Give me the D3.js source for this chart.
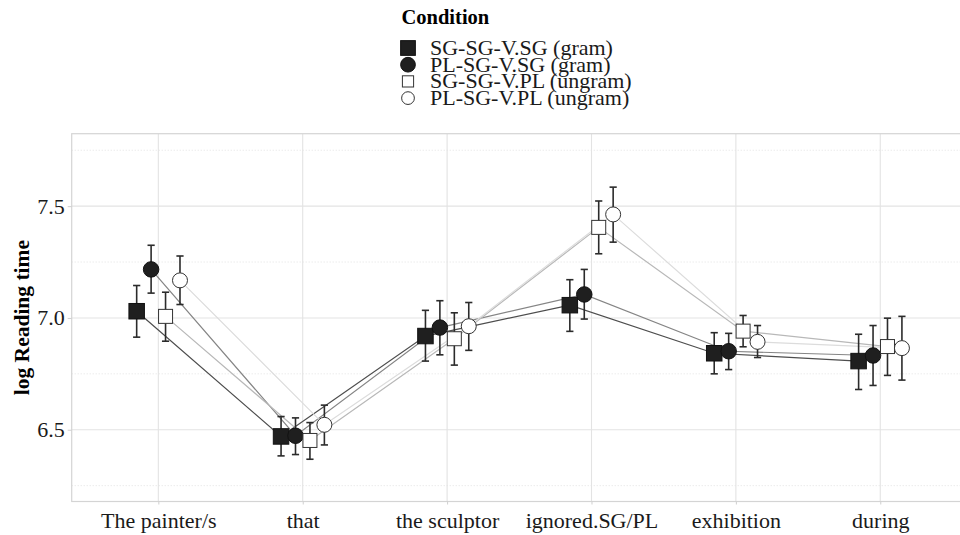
<!DOCTYPE html>
<html>
<head>
<meta charset="utf-8">
<script src="https://cdn.jsdelivr.net/npm/d3@7"></script>
<style>
  html, body { margin: 0; padding: 0; background: #fff; overflow: hidden; }
  svg { display: block; }
</style>
</head>
<body>
<div id="chart"></div>
<script>
// words of the sentence, in reading order
const regions = ["The painter/s", "that", "the sculptor", "ignored.SG/PL", "exhibition", "during"];
const conditions = ["SG-SG-V.SG (gram)", "PL-SG-V.SG (gram)", "SG-SG-V.PL (ungram)", "PL-SG-V.PL (ungram)"];

// mean log reading time per region, one array per condition
const sgsgSg = [7.030, 6.470, 6.919, 7.057, 6.842, 6.807];
const plsgSg = [7.217, 6.473, 6.957, 7.105, 6.851, 6.832];
const sgsgPl = [7.007, 6.452, 6.907, 7.405, 6.941, 6.872];
const plsgPl = [7.168, 6.522, 6.963, 7.463, 6.893, 6.865];

// error bar ends
const sgsgSgLo = [6.914, 6.383, 6.807, 6.940, 6.750, 6.680];
const sgsgSgHi = [7.145, 6.559, 7.034, 7.171, 6.934, 6.927];
const plsgSgLo = [7.111, 6.389, 6.835, 6.995, 6.769, 6.698];
const plsgSgHi = [7.325, 6.553, 7.077, 7.217, 6.931, 6.966];
const sgsgPlLo = [6.896, 6.368, 6.789, 7.287, 6.871, 6.743];
const sgsgPlHi = [7.115, 6.532, 7.023, 7.523, 7.011, 6.999];
const plsgPlLo = [7.060, 6.432, 6.855, 7.339, 6.823, 6.722];
const plsgPlHi = [7.277, 6.610, 7.069, 7.585, 6.966, 7.007];

const yTicks = [6.5, 7.0, 7.5];
const yMinorTicks = [6.25, 6.75, 7.25, 7.75];

const width = 960;
const height = 535;
const panel = { left: 71.7, right: 966.9, top: 133.7, bottom: 501.5 };
const font = "'Liberation Serif', 'Times New Roman', serif";
const fontSize = 22;

const means = [sgsgSg, plsgSg, sgsgPl, plsgPl];
const lows = [sgsgSgLo, plsgSgLo, sgsgPlLo, plsgPlLo];
const highs = [sgsgSgHi, plsgSgHi, sgsgPlHi, plsgPlHi];

const lineColors = ["#4d4d4d", "#858585", "#b8b8b8", "#dcdcdc"];
const shapes = [
  { type: "square", fill: "#1f1f1f", stroke: "#111", size: 15.5 },
  { type: "circle", fill: "#1f1f1f", stroke: "#111", size: 15.5 },
  { type: "square", fill: "#fff", stroke: "#333", size: 14 },
  { type: "circle", fill: "#fff", stroke: "#333", size: 15 }
];

const series = conditions.map((c, k) => ({
  key: c,
  k,
  values: regions.map((r, i) => ({ region: r, mean: means[k][i], lo: lows[k][i], hi: highs[k][i] }))
}));

const svg = d3.select("#chart").append("svg")
  .attr("width", width)
  .attr("height", height)
  .attr("viewBox", [0, 0, width, height])
  .style("font-family", font);

const x = d3.scalePoint()
  .domain(regions)
  .range([panel.left, panel.right])
  .padding(0.6);

const dodge = d3.scalePoint()
  .domain(conditions)
  .range([-0.2 * x.step(), 0.2 * x.step()])
  .padding(0.5);

const y = d3.scaleLinear()
  .domain([6.179, 7.824])
  .range([panel.bottom, panel.top]);

const px = (d, key) => x(d.region) + dodge(key);

// panel grid
const grid = svg.append("g");

grid.selectAll("line.minor")
  .data(yMinorTicks)
  .join("line")
  .attr("class", "minor")
  .attr("x1", panel.left).attr("x2", panel.right)
  .attr("y1", (d) => y(d)).attr("y2", (d) => y(d))
  .attr("stroke", "#dcdcdc")
  .attr("stroke-width", 0.8)
  .attr("stroke-dasharray", "1,2");

grid.selectAll("line.major")
  .data(yTicks)
  .join("line")
  .attr("class", "major")
  .attr("x1", panel.left).attr("x2", panel.right)
  .attr("y1", (d) => y(d)).attr("y2", (d) => y(d))
  .attr("stroke", "#e3e3e3")
  .attr("stroke-width", 1.1);

grid.selectAll("line.vert")
  .data(regions)
  .join("line")
  .attr("class", "vert")
  .attr("x1", (d) => x(d)).attr("x2", (d) => x(d))
  .attr("y1", panel.top).attr("y2", panel.bottom)
  .attr("stroke", "#e3e3e3")
  .attr("stroke-width", 1.1);

svg.append("rect")
  .attr("x", panel.left)
  .attr("y", panel.top)
  .attr("width", panel.right - panel.left)
  .attr("height", panel.bottom - panel.top)
  .attr("fill", "none")
  .attr("stroke", "#d4d4d4")
  .attr("stroke-width", 1.2);

// axes
const xAxis = svg.append("g")
  .attr("transform", `translate(0,${panel.bottom})`)
  .call(d3.axisBottom(x).tickSize(3).tickPadding(8));

xAxis.select(".domain").remove();
xAxis.selectAll(".tick line").attr("stroke", "#cfcfcf");
xAxis.selectAll(".tick text")
  .attr("font-family", font)
  .attr("font-size", fontSize)
  .attr("fill", "#1a1a1a");

const yAxis = svg.append("g")
  .attr("transform", `translate(${panel.left},0)`)
  .call(d3.axisLeft(y).tickValues(yTicks).tickFormat(d3.format(".1f")).tickSize(4).tickPadding(3));

yAxis.select(".domain").remove();
yAxis.selectAll(".tick line").attr("stroke", "#cfcfcf");
yAxis.selectAll(".tick text")
  .attr("font-family", font)
  .attr("font-size", fontSize)
  .attr("fill", "#1a1a1a");

svg.append("text")
  .attr("transform", `translate(29,${(panel.top + panel.bottom) / 2}) rotate(-90)`)
  .attr("text-anchor", "middle")
  .attr("font-size", fontSize - 0.5)
  .attr("font-weight", "bold")
  .attr("fill", "#000")
  .text("log Reading time");

// lines
const line = d3.line()
  .x((d) => px(d, d.key))
  .y((d) => y(d.mean));

svg.append("g")
  .selectAll("path")
  .data(series)
  .join("path")
  .attr("fill", "none")
  .attr("stroke", (s) => lineColors[s.k])
  .attr("stroke-width", 1.2)
  .attr("d", (s) => line(s.values.map((v) => ({ ...v, key: s.key }))));

// error bars
const capHalf = 3.6;
const bars = svg.append("g")
  .attr("stroke", "#2b2b2b")
  .attr("stroke-width", 1.6)
  .selectAll("g")
  .data(series.flatMap((s) => s.values.map((v) => ({ ...v, key: s.key }))))
  .join("g");

bars.append("line")
  .attr("x1", (d) => px(d, d.key)).attr("x2", (d) => px(d, d.key))
  .attr("y1", (d) => y(d.lo)).attr("y2", (d) => y(d.hi));
bars.append("line")
  .attr("x1", (d) => px(d, d.key) - capHalf).attr("x2", (d) => px(d, d.key) + capHalf)
  .attr("y1", (d) => y(d.hi)).attr("y2", (d) => y(d.hi));
bars.append("line")
  .attr("x1", (d) => px(d, d.key) - capHalf).attr("x2", (d) => px(d, d.key) + capHalf)
  .attr("y1", (d) => y(d.lo)).attr("y2", (d) => y(d.lo));

// points
function drawShape(g, shape, cx, cy, scale = 1) {
  const s = shape.size * scale;
  if (shape.type === "square") {
    g.append("rect")
      .attr("x", cx - s / 2).attr("y", cy - s / 2)
      .attr("width", s).attr("height", s)
      .attr("fill", shape.fill)
      .attr("stroke", shape.stroke)
      .attr("stroke-width", 1);
  } else {
    g.append("circle")
      .attr("cx", cx).attr("cy", cy).attr("r", s / 2)
      .attr("fill", shape.fill)
      .attr("stroke", shape.stroke)
      .attr("stroke-width", 1);
  }
}

const pts = svg.append("g");
series.forEach((s) => {
  s.values.forEach((d) => {
    drawShape(pts, shapes[s.k], px(d, s.key), y(d.mean));
  });
});

// legend
const legend = svg.append("g").attr("transform", "translate(400,0)");

legend.append("text")
  .attr("x", 1.5)
  .attr("y", 24)
  .attr("font-size", fontSize - 1.5)
  .attr("font-weight", "bold")
  .text("Condition");

const legendScales = [0.95, 0.95, 0.8, 0.85];
conditions.forEach((c, k) => {
  const baseline = 55 + k * 16.7;
  const item = legend.append("g");
  drawShape(item, shapes[k], 8, baseline - 7, legendScales[k]);
  item.append("text")
    .attr("x", 30)
    .attr("y", baseline)
    .attr("font-size", fontSize)
    .attr("fill", "#1a1a1a")
    .text(c);
});
</script>
</body>
</html>
